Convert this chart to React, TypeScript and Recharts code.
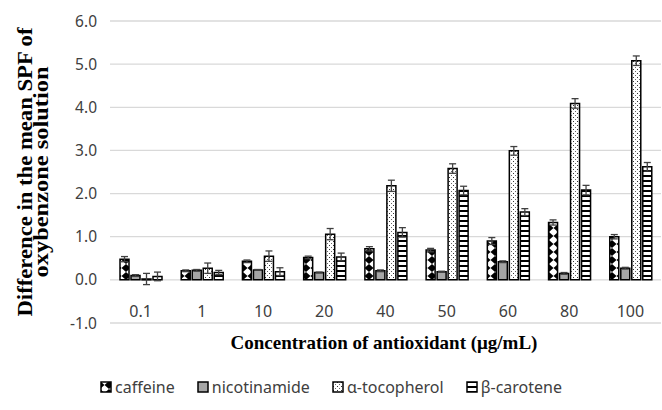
import { BarChart, Bar, XAxis, YAxis, CartesianGrid, ErrorBar, Legend } from "recharts";

const categories = ["0.1", "1", "10", "20", "40", "50", "60", "80", "100"];
const caffeine = [0.48, 0.21, 0.43, 0.52, 0.72, 0.69, 0.9, 1.33, 1.0];
const caffeineErr = [0.06, 0.02, 0.03, 0.03, 0.05, 0.04, 0.08, 0.06, 0.05];
const nicotinamide = [0.1, 0.22, 0.23, 0.17, 0.21, 0.19, 0.42, 0.15, 0.27];
const nicotinamideErr = [0.02, 0.02, 0.01, 0.01, 0.02, 0.01, 0.02, 0.02, 0.02];
const tocopherol = [0.02, 0.27, 0.55, 1.06, 2.18, 2.58, 2.99, 4.09, 5.08];
const tocopherolErr = [0.13, 0.12, 0.12, 0.13, 0.13, 0.11, 0.1, 0.11, 0.11];
const carotene = [0.08, 0.17, 0.19, 0.53, 1.1, 2.07, 1.57, 2.08, 2.62];
const caroteneErr = [0.1, 0.05, 0.09, 0.09, 0.11, 0.1, 0.08, 0.11, 0.1];
const yTicks = [-1, 0, 1, 2, 3, 4, 5, 6];

const series = [
  { key: "caffeine", label: "caffeine", fill: "url(#patCaff)" },
  { key: "nicotinamide", label: "nicotinamide", fill: "#a6a6a6" },
  { key: "tocopherol", label: "α-tocopherol", fill: "url(#patToc)" },
  { key: "carotene", label: "β-carotene", fill: "url(#patCar)" },
];

const data = categories.map((c, i) => ({
  conc: c,
  caffeine: caffeine[i],
  caffeineErr: caffeineErr[i],
  nicotinamide: nicotinamide[i],
  nicotinamideErr: nicotinamideErr[i],
  tocopherol: tocopherol[i],
  tocopherolErr: tocopherolErr[i],
  carotene: carotene[i],
  caroteneErr: caroteneErr[i],
}));

const tickFont = "'Noto Sans', sans-serif";
const titleFont = "'Liberation Serif', 'Times New Roman', serif";

function CatTick(props: any) {
  const { x, y, payload } = props;
  return (
    <text x={x} y={y - 6} textAnchor="middle" fontFamily={tickFont} fontSize={16} fill="#404040">
      {payload.value}
    </text>
  );
}

function LegendBox() {
  return (
    <div
      style={{
        display: "flex",
        justifyContent: "center",
        gap: 22,
        height: 20,
        fontFamily: tickFont,
        fontSize: 16,
        lineHeight: "20px",
        color: "#404040",
      }}
    >
      {series.map((s) => (
        <div key={s.key} style={{ display: "flex", alignItems: "center" }}>
          <svg width={12} height={12} style={{ marginRight: 3 }}>
            <rect x={1} y={1} width={10} height={10} fill={s.fill} stroke="#000" strokeWidth={1.5} />
          </svg>
          <span>{s.label}</span>
        </div>
      ))}
    </div>
  );
}

export default function App() {
  return (
    <div style={{ position: "absolute", left: 0, top: 0, background: "#fff" }}>
      <BarChart
        width={662}
        height={410}
        data={data}
        margin={{ top: 21, right: 1, left: 0, bottom: 47 }}
        barSize={9}
        barGap={2}
      >
        <defs>
          <pattern id="patCaff" width={9} height={8} patternUnits="userSpaceOnUse">
            <rect width={9} height={8} fill="#fff" />
            <polygon points="0,0 4.5,4 0,8" fill="#000" />
            <polygon points="9,0 4.5,4 9,8" fill="#000" />
          </pattern>
          <pattern id="patToc" width={4} height={4} patternUnits="userSpaceOnUse">
            <rect width={4} height={4} fill="#fff" />
            <rect x={1} y={1} width={1} height={1} fill="#333" />
            <rect x={3} y={3} width={1} height={1} fill="#666" />
          </pattern>
          <pattern id="patCar" width={4} height={5} patternUnits="userSpaceOnUse">
            <rect width={4} height={5} fill="#fff" />
            <rect x={0} y={0} width={4} height={2} fill="#000" />
          </pattern>
        </defs>
        <CartesianGrid vertical={false} stroke="#d9d9d9" strokeWidth={1.3} />
        <XAxis
          dataKey="conc"
          axisLine={false}
          tickLine={false}
          tickSize={0}
          tickMargin={0}
          height={20}
          tick={<CatTick />}
          interval={0}
          label={{
            content: () => (
              <text
                x={384}
                y={349}
                textAnchor="middle"
                fontFamily={titleFont}
                fontWeight="bold"
                fontSize={19}
                fill="#000"
              >
                Concentration of antioxidant (μg/mL)
              </text>
            ),
          }}
        />
        <YAxis
          domain={[-1, 6]}
          ticks={yTicks}
          width={110}
          axisLine={false}
          tickLine={false}
          tickSize={0}
          tickMargin={13}
          tickFormatter={(v: number) => v.toFixed(1)}
          tick={{ fontFamily: tickFont, fontSize: 15.5, fill: "#404040" }}
          label={{
            content: () => (
              <g fontFamily={titleFont} fontWeight="bold" fontSize={20} fill="#000">
                <text
                  x={32}
                  y={172}
                  textAnchor="middle"
                  transform="rotate(-90, 32, 172)"
                  textLength={289}
                  lengthAdjust="spacingAndGlyphs"
                >
                  Difference in the mean SPF of
                </text>
                <text
                  x={48}
                  y={172}
                  textAnchor="middle"
                  transform="rotate(-90, 48, 172)"
                  textLength={211}
                  lengthAdjust="spacingAndGlyphs"
                >
                  oxybenzone solution
                </text>
              </g>
            ),
          }}
        />
        <Legend
          verticalAlign="bottom"
          content={() => <LegendBox />}
          wrapperStyle={{ top: 377, left: 0, width: 662, height: 20 }}
        />
        {series.map((s) => (
          <Bar
            key={s.key}
            dataKey={s.key}
            name={s.label}
            fill={s.fill}
            stroke="#000"
            strokeWidth={1.5}
            isAnimationActive={false}
          >
            <ErrorBar dataKey={s.key + "Err"} width={3.5} stroke="#404040" strokeWidth={1.3} />
          </Bar>
        ))}
      </BarChart>
    </div>
  );
}
